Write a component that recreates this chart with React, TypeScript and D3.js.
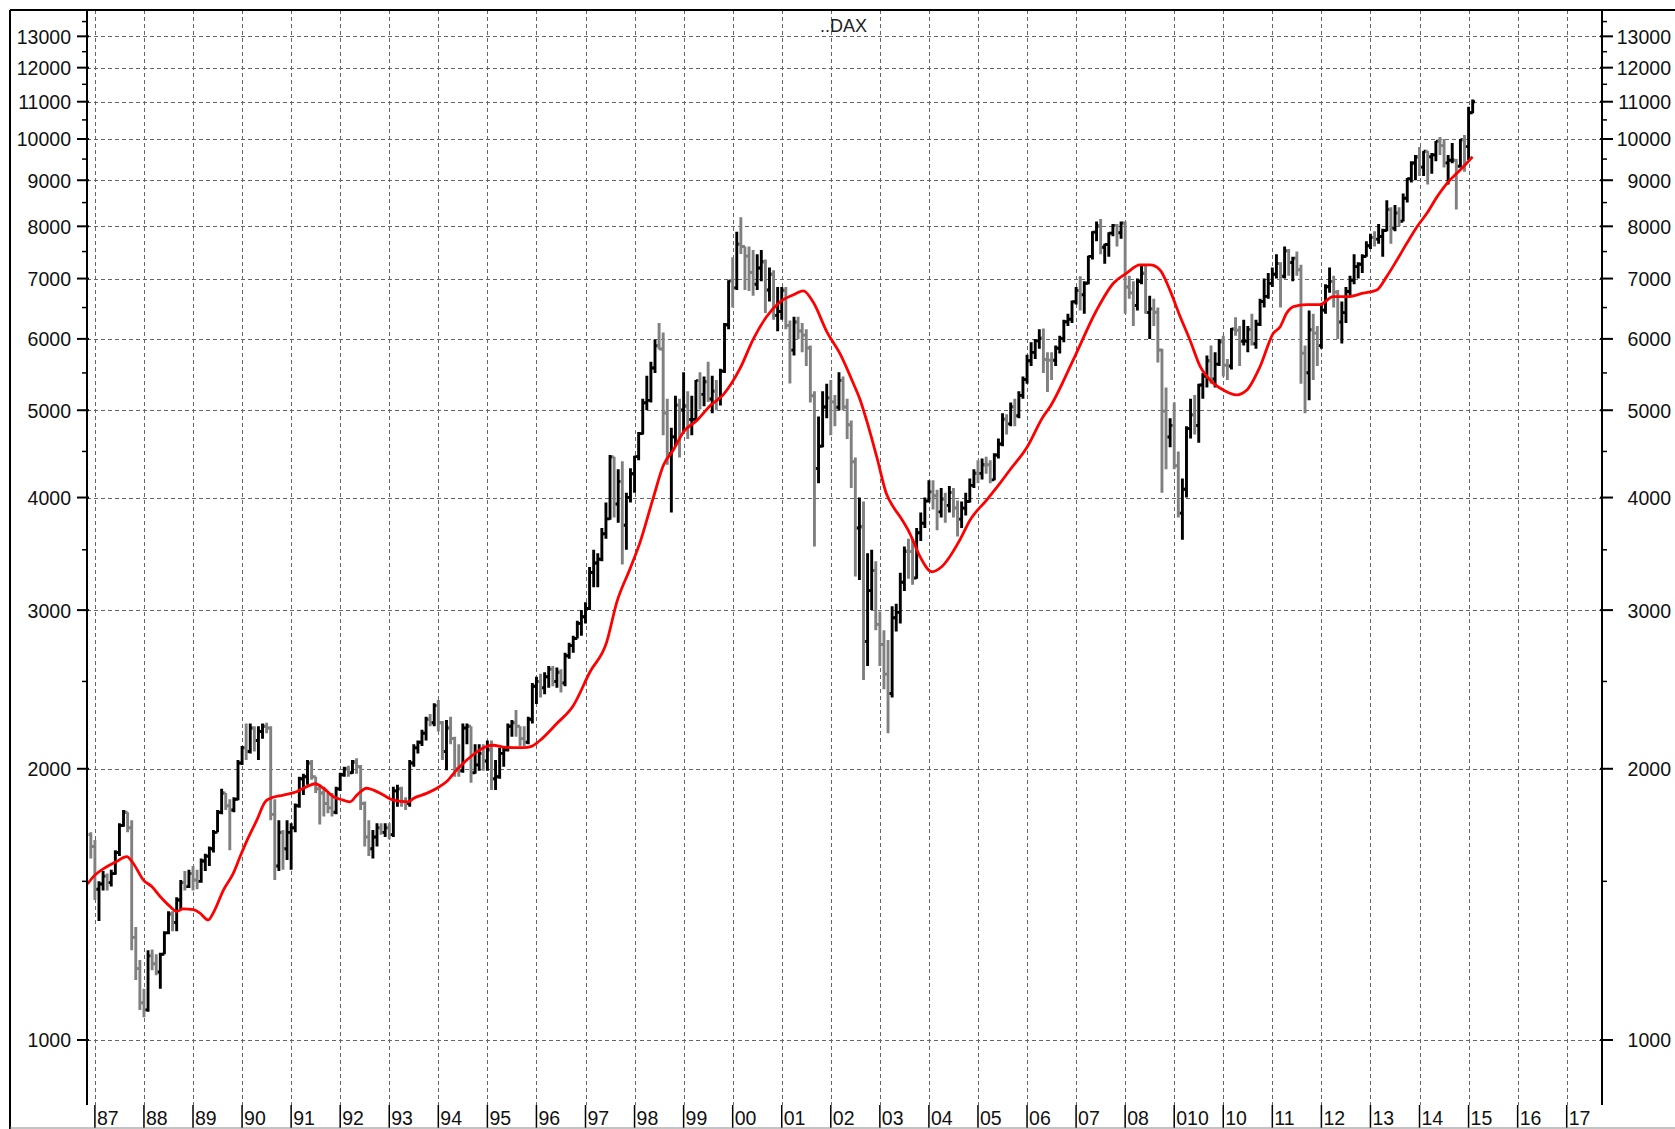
import React, { useEffect, useRef } from 'react';
import * as d3 from 'd3';

// monthly bars, first bar = December 1986, last = February 2015
const firstMonth = -1; // months from Jan 1987
const firstOpen = 1690;

const closes = [
  1640,
  1470, 1490, 1520, 1495, 1530, 1615, 1730, 1790, 1720, 1300, 1200, 1100, // 1987
  1080, 1240, 1215, 1190, 1245, 1315, 1380, 1350, 1430, 1495, 1480, 1530, // 1988
  1505, 1500, 1580, 1600, 1630, 1700, 1790, 1880, 1820, 1800, 1850, 2030, // 1989
  2110, 2090, 2220, 2150, 2200, 2230, 2220, 1780, 1560, 1700, 1630, 1700, // 1990
  1720, 1820, 1950, 1960, 2030, 1960, 1900, 1880, 1830, 1810, 1790, 1900, // 1991
  1970, 2000, 1980, 2035, 2010, 1830, 1680, 1630, 1680, 1720, 1700, 1720, // 1992
  1690, 1890, 1900, 1840, 1830, 2030, 2110, 2140, 2190, 2270, 2250, 2350, // 1993
  2250, 2090, 2220, 2160, 2000, 1990, 2220, 2230, 1980, 2020, 2080, 2040, // 1994
  2100, 1950, 1960, 2080, 2100, 2230, 2250, 2230, 2160, 2140, 2270, 2470, // 1995
  2500, 2460, 2530, 2580, 2500, 2560, 2490, 2670, 2740, 2790, 2900, 2950, // 1996
  3012, 3303, 3384, 3416, 3647, 3788, 4438, 3935, 4168, 3727, 4000, 4250, // 1997
  4441, 4710, 5096, 5127, 5569, 5896, 5848, 4965, 4474, 4671, 5066, 5002, // 1998
  5054, 4883, 4884, 5393, 5207, 5378, 5145, 5250, 5150, 5525, 6220, 6958, // 1999
  6835, 7644, 7599, 7414, 7109, 6898, 7191, 7307, 6798, 7077, 6372, 6434, // 2000
  6795, 6208, 5830, 6265, 6123, 6058, 5861, 5188, 4308, 4560, 5041, 5160, // 2001
  5108, 5039, 5397, 5041, 4818, 4383, 3700, 3712, 2769, 3153, 3320, 2893, // 2002
  2748, 2547, 2424, 2942, 2983, 3221, 3487, 3485, 3257, 3656, 3746, 3965, // 2003
  4058, 4018, 3856, 3985, 3921, 4053, 3895, 3785, 3893, 3960, 4126, 4256, // 2004
  4255, 4350, 4349, 4185, 4460, 4587, 4887, 4829, 5044, 4929, 5193, 5408, // 2005
  5674, 5796, 5970, 6009, 5692, 5683, 5682, 5859, 6004, 6268, 6309, 6597, // 2006
  6789, 6716, 6917, 7409, 7883, 8007, 7584, 7638, 7862, 8019, 7871, 8067, // 2007
  6851, 6748, 6535, 6949, 7097, 6418, 6479, 6422, 5831, 4988, 4669, 4810, // 2008
  4338, 3844, 4085, 4770, 4941, 4809, 5332, 5458, 5675, 5415, 5625, 5957, // 2009
  5608, 5598, 6154, 6136, 5965, 5966, 6148, 5925, 6229, 6601, 6688, 6914, // 2010
  7077, 7273, 7041, 7514, 7294, 7376, 7159, 5785, 5502, 6141, 6089, 5898, // 2011
  6458, 6856, 6947, 6762, 6264, 6416, 6772, 6971, 7216, 7260, 7406, 7612, // 2012
  7776, 7742, 7795, 7914, 8349, 7959, 8276, 8104, 8594, 9034, 9406, 9552, // 2013
  9306, 9692, 9556, 9603, 9943, 9833, 9407, 9470, 9474, 9327, 9981, 9806, // 2014
  10694, 11000, // 2015
];

const highs = [
  1700,
  1667, 1500, 1540, 1530, 1545, 1624, 1740, 1800, 1790, 1754, 1335, 1227,
  1140, 1258, 1260, 1245, 1250, 1320, 1390, 1390, 1440, 1505, 1540, 1545,
  1560, 1545, 1590, 1610, 1640, 1710, 1800, 1900, 1880, 1850, 1860, 2045,
  2120, 2245, 2245, 2230, 2230, 2245, 2250, 2230, 1850, 1754, 1710, 1754,
  1740, 1830, 1960, 1975, 2045, 2045, 1960, 1920, 1910, 1880, 1880, 1910,
  1980, 2010, 2015, 2045, 2055, 2020, 1840, 1754, 1710, 1740, 1740, 1740,
  1740, 1910, 1920, 1910, 1860, 2045, 2130, 2150, 2210, 2285, 2300, 2365,
  2384, 2260, 2265, 2285, 2170, 2130, 2245, 2245, 2230, 2130, 2130, 2130,
  2150, 2150, 2045, 2110, 2115, 2245, 2265, 2324, 2230, 2230, 2285, 2490,
  2530, 2550, 2560, 2600, 2600, 2590, 2580, 2690, 2760, 2810, 2920, 3000,
  3060, 3350, 3500, 3470, 3700, 3950, 4460, 4440, 4300, 4390, 4050, 4310,
  4450, 4730, 5150, 5460, 5660, 5990, 6250, 6100, 5150, 4780, 5190, 5150,
  5510, 5250, 5190, 5400, 5510, 5450, 5660, 5460, 5400, 5560, 6250, 6970,
  7390, 7890, 8190, 7600, 7600, 7530, 7450, 7530, 7350, 7200, 7150, 6850,
  6850, 6850, 6290, 6350, 6350, 6250, 6150, 5900, 5250, 4920, 5250, 5350,
  5400, 5200, 5510, 5450, 5150, 4871, 4431, 4000, 3960, 3470, 3500, 3400,
  2990, 2850, 2780, 3030, 3050, 3300, 3530, 3600, 3600, 3700, 3850, 4000,
  4180, 4180, 4080, 4100, 4050, 4120, 4100, 3970, 3960, 4050, 4200, 4300,
  4400, 4420, 4440, 4400, 4480, 4650, 4960, 4950, 5100, 5150, 5250, 5450,
  5760, 5950, 6000, 6150, 6160, 5800, 5800, 5900, 6050, 6300, 6400, 6620,
  6850, 7040, 6950, 7420, 7900, 8100, 8150, 7650, 7880, 8050, 8050, 8100,
  8100, 7050, 6950, 7000, 7250, 7230, 6700, 6650, 6500, 5850, 5300, 4900,
  5100, 4500, 4200, 4800, 5150, 5200, 5350, 5500, 5750, 5900, 5800, 6000,
  6050, 5700, 6170, 6340, 6200, 6300, 6200, 6400, 6300, 6650, 7000, 7100,
  7200, 7450, 7300, 7600, 7550, 7400, 7500, 7250, 5900, 6450, 6400, 6200,
  6550, 6900, 7200, 7050, 6800, 6600, 6850, 7050, 7450, 7300, 7450, 7700,
  7850, 7900, 8050, 7950, 8550, 8400, 8450, 8400, 8700, 9050, 9450, 9600,
  9800, 9700, 9700, 9650, 9950, 10050, 10000, 9600, 9900, 9500, 10000, 10100,
  10860, 11060,
];

const lows = [
  1590,
  1430, 1355, 1465, 1465, 1480, 1525, 1600, 1725, 1700, 1258, 1166, 1080,
  1060, 1075, 1195, 1180, 1140, 1245, 1310, 1320, 1320, 1394, 1465, 1475,
  1465, 1470, 1495, 1540, 1560, 1615, 1700, 1780, 1800, 1624, 1790, 1846,
  2020, 2045, 2080, 2090, 2045, 2160, 2190, 1754, 1505, 1540, 1545, 1584,
  1545, 1700, 1810, 1870, 1920, 1945, 1880, 1735, 1770, 1785, 1770, 1780,
  1890, 1960, 1960, 1975, 1975, 1800, 1640, 1600, 1590, 1640, 1690, 1680,
  1670, 1680, 1815, 1815, 1800, 1815, 2010, 2080, 2120, 2150, 2230, 2230,
  2200, 2045, 1993, 2130, 1960, 1960, 1980, 2130, 1930, 1975, 1990, 1990,
  1990, 1894, 1894, 1950, 2010, 2090, 2170, 2170, 2120, 2120, 2130, 2245,
  2360, 2400, 2420, 2460, 2470, 2460, 2430, 2470, 2650, 2690, 2790, 2810,
  2900, 3000, 3180, 3180, 3400, 3600, 3780, 3800, 3750, 3370, 3500, 3950,
  4050, 4400, 4700, 5000, 5100, 5500, 5840, 4690, 4350, 3850, 4560, 4430,
  4730, 4645, 4690, 4870, 5010, 5050, 5107, 4960, 5000, 5060, 5500, 6150,
  6500, 6800, 7455, 6800, 6780, 6700, 6800, 6950, 6410, 6600, 6300, 6120,
  6300, 6150, 5353, 5750, 6000, 5800, 5600, 5100, 3530, 4150, 4550, 4900,
  4690, 4800, 5000, 5000, 4645, 4100, 3270, 3240, 2510, 2600, 3000, 2850,
  2600, 2450, 2190, 2400, 2840, 2900, 3150, 3250, 3200, 3250, 3580, 3700,
  3950, 3880, 3680, 3800, 3750, 3850, 3800, 3620, 3700, 3820, 3950, 4100,
  4150, 4190, 4250, 4150, 4180, 4420, 4560, 4700, 4800, 4800, 4900, 5150,
  5350, 5600, 5700, 5850, 5500, 5240, 5400, 5600, 5780, 5950, 6200, 6250,
  6550, 6450, 6400, 6900, 7350, 7700, 7450, 7270, 7400, 7800, 7600, 7750,
  6400, 6650, 6200, 6450, 6900, 6400, 6000, 6200, 5650, 4050, 4300, 4550,
  4300, 3800, 3590, 4000, 4650, 4700, 4600, 5150, 5300, 5350, 5300, 5600,
  5450, 5400, 5550, 6050, 5600, 5900, 5800, 5900, 5850, 6200, 6500, 6650,
  6850, 7000, 6500, 7000, 7050, 6950, 7050, 5350, 4960, 5130, 5400, 5600,
  5850, 6400, 6750, 6500, 6000, 5930, 6250, 6700, 6900, 7000, 7100, 7400,
  7550, 7600, 7650, 7400, 7900, 7650, 7900, 8000, 8100, 8500, 8950, 9000,
  9100, 9100, 8900, 9150, 9450, 9600, 9300, 8900, 9400, 8350, 9300, 9200,
  9480, 10680,
];

// red moving average (decimal year, value)
const maYears = [
  1986.85, 1986.97, 1987.24, 1987.44, 1987.65, 1987.78, 1987.99, 1988.16, 1988.33, 1988.53,
  1988.67, 1988.8, 1989.01, 1989.14, 1989.31, 1989.41, 1989.62, 1989.82, 1989.96, 1990.09,
  1990.3, 1990.47, 1990.57, 1990.84, 1991.11, 1991.32, 1991.49, 1991.66, 1991.86, 1992.06,
  1992.2, 1992.34, 1992.54, 1992.68, 1992.88, 1993.08, 1993.39, 1993.49, 1993.76, 1993.97,
  1994.17, 1994.37, 1994.58, 1994.78, 1994.99, 1995.12, 1995.32, 1995.53, 1995.73, 1995.9,
  1996.07, 1996.41, 1996.75, 1997.09, 1997.43, 1997.64, 1997.91, 1998.11, 1998.38, 1998.59,
  1998.79, 1999.0, 1999.27, 1999.54, 1999.81, 2000.15, 2000.42, 2000.69, 2000.96, 2001.24,
  2001.44, 2001.64, 2001.92, 2002.19, 2002.46, 2002.59, 2002.73, 2002.94, 2003.14, 2003.27,
  2003.41, 2003.61, 2003.82, 2004.06, 2004.26, 2004.63, 2004.84, 2005.18, 2005.45, 2005.65,
  2005.99, 2006.33, 2006.47, 2006.94, 2007.42, 2007.76, 2008.03, 2008.3, 2008.51, 2008.71,
  2008.91, 2009.12, 2009.32, 2009.53, 2009.73, 2010.0, 2010.27, 2010.48, 2010.75, 2011.02,
  2011.16, 2011.29, 2011.43, 2011.7, 2011.97, 2012.24, 2012.52, 2012.85, 2013.13, 2013.33,
  2013.54, 2013.74, 2013.95, 2014.15, 2014.36, 2014.56, 2014.76, 2014.96, 2015.08,
];
const maValues = [
  1490, 1518, 1557, 1578, 1598, 1571, 1505, 1480, 1443, 1407,
  1389, 1398, 1395, 1383, 1359, 1383, 1467, 1531, 1598, 1660,
  1754, 1838, 1854, 1870, 1886, 1911, 1925, 1903, 1862, 1846,
  1838, 1870, 1903, 1894, 1870, 1846, 1838, 1854, 1878, 1903,
  1936, 1993, 2045, 2087, 2118, 2124, 2114, 2111, 2111, 2118,
  2150, 2244, 2350, 2561, 2763, 3064, 3337, 3565, 3994, 4347,
  4516, 4733, 4871, 5058, 5204, 5563, 5998, 6349, 6592, 6718,
  6782, 6592, 6110, 5773, 5353, 5150, 4871, 4431, 4030, 3908,
  3810, 3651, 3439, 3309, 3352, 3589, 3777, 3977, 4150, 4292,
  4540, 4920, 5045, 5683, 6460, 6917, 7097, 7248, 7248, 7155,
  6800, 6352, 5984, 5591, 5401, 5264, 5199, 5264, 5591, 6087,
  6190, 6406, 6516, 6550, 6550, 6683, 6683, 6743, 6800, 7035,
  7340, 7660, 7993, 8270, 8630, 8929, 9160, 9398, 9556,
];

const yLabels = [1000, 2000, 3000, 4000, 5000, 6000, 7000, 8000, 9000, 10000, 11000, 12000, 13000];
const yMinor = [1500, 2500, 3500, 4500, 5500, 6500, 7500, 8500, 9500, 10500, 11500, 12500, 13500];
const years = d3.range(1987, 2018);
const yearLabels = [
  '87', '88', '89', '90', '91', '92', '93', '94', '95', '96', '97', '98', '99',
  '00', '01', '02', '03', '04', '05', '06', '07', '08', '010', '10', '11', '12',
  '13', '14', '15', '16', '17',
];

const FONT = '"Liberation Sans", Arial, sans-serif';

const App = () => {
  const svgRef = useRef<SVGSVGElement>(null);

  useEffect(() => {
    const svg = d3.select(svgRef.current);
    svg.selectAll('*').remove();

    const left = 87, right = 1602, top = 10, bottom = 1105;
    const x = d3.scaleLinear().domain([1987, 2017]).range([94.9, 1566.7]);
    const y = d3.scaleLog().domain([1000, 10000]).range([1040, 139]);

    svg.append('rect').attr('width', 1675).attr('height', 1129).attr('fill', '#fff');

    // grid
    const grid = svg.append('g').attr('stroke', '#666').attr('stroke-width', 1).attr('stroke-dasharray', '4,3');
    grid.selectAll('.hg')
      .data(yLabels)
      .enter().append('line')
      .attr('x1', left).attr('x2', right)
      .attr('y1', d => Math.round(y(d)) + 0.5).attr('y2', d => Math.round(y(d)) + 0.5);
    grid.selectAll('.vg')
      .data(years)
      .enter().append('line')
      .attr('x1', d => Math.round(x(d)) + 0.5).attr('x2', d => Math.round(x(d)) + 0.5)
      .attr('y1', top).attr('y2', bottom);

    // OHLC bars
    const n = Math.min(closes.length, highs.length, lows.length);
    const bars = d3.range(n).map(i => ({
      t: 1987 + (firstMonth + i) / 12,
      o: i === 0 ? firstOpen : closes[i - 1],
      h: highs[i],
      l: lows[i],
      c: closes[i],
    }));

    svg.append('g')
      .selectAll('path')
      .data(bars)
      .enter().append('path')
      .attr('d', d => {
        const bx = x(d.t);
        return `M${bx},${y(d.h)}V${y(d.l)}M${bx - 2.4},${y(d.o)}H${bx}M${bx},${y(d.c)}H${bx + 2.4}`;
      })
      .attr('fill', 'none')
      .attr('stroke', d => (d.c >= d.o ? '#000' : '#808080'))
      .attr('stroke-width', 2.9);

    // moving average
    const ma = maYears.map((t, i) => [t, maValues[i]] as [number, number]);
    const line = d3.line<[number, number]>()
      .x(d => x(d[0]))
      .y(d => y(d[1]))
      .curve(d3.curveMonotoneX);
    svg.append('path')
      .attr('d', line(ma))
      .attr('fill', 'none')
      .attr('stroke', '#ff0000')
      .attr('stroke-width', 2.8);

    // white out anything left of the axis
    svg.append('rect').attr('x', 12).attr('y', top).attr('width', left - 12).attr('height', bottom - top).attr('fill', '#fff');

    // axes
    const ax = svg.append('g').attr('stroke', '#000');
    ax.append('line').attr('x1', left).attr('x2', left).attr('y1', top).attr('y2', bottom).attr('stroke-width', 2);
    ax.append('line').attr('x1', right).attr('x2', right).attr('y1', top).attr('y2', bottom).attr('stroke-width', 2);
    ax.selectAll('.tl').data(yLabels).enter().append('line')
      .attr('x1', left - 10).attr('x2', left + 2).attr('y1', d => y(d)).attr('y2', d => y(d)).attr('stroke-width', 2);
    ax.selectAll('.tr').data(yLabels).enter().append('line')
      .attr('x1', right - 2).attr('x2', right + 11).attr('y1', d => y(d)).attr('y2', d => y(d)).attr('stroke-width', 2);
    ax.selectAll('.ml').data(yMinor).enter().append('line')
      .attr('x1', left - 5).attr('x2', left).attr('y1', d => y(d)).attr('y2', d => y(d)).attr('stroke-width', 1.5);
    ax.selectAll('.mr').data(yMinor).enter().append('line')
      .attr('x1', right).attr('x2', right + 5).attr('y1', d => y(d)).attr('y2', d => y(d)).attr('stroke-width', 1.5);
    ax.selectAll('.yt').data(years).enter().append('line')
      .attr('x1', d => x(d)).attr('x2', d => x(d)).attr('y1', bottom).attr('y2', 1128).attr('stroke-width', 1.5);

    const txt = svg.append('g').attr('font-family', FONT).attr('font-size', 19.5).attr('fill', '#111');
    txt.selectAll('.ll').data(yLabels).enter().append('text')
      .attr('x', 71).attr('y', d => y(d)).attr('dy', '0.38em').attr('text-anchor', 'end')
      .text(d => String(d));
    txt.selectAll('.rl').data(yLabels).enter().append('text')
      .attr('x', 1671).attr('y', d => y(d)).attr('dy', '0.38em').attr('text-anchor', 'end')
      .text(d => String(d));
    txt.selectAll('.xl').data(years).enter().append('text')
      .attr('x', d => x(d) + 2).attr('y', 1125)
      .text((d, i) => yearLabels[i]);

    svg.append('text')
      .attr('x', 820).attr('y', 32)
      .attr('font-family', FONT).attr('font-size', 18).attr('fill', '#222')
      .text('..DAX');

    // frame
    const fr = svg.append('g').attr('stroke', '#000').attr('stroke-width', 2);
    fr.append('line').attr('x1', 10).attr('x2', 1675).attr('y1', 10).attr('y2', 10);
    fr.append('line').attr('x1', 10).attr('x2', 10).attr('y1', 10).attr('y2', 1129);
    fr.append('line').attr('x1', 10).attr('x2', 1675).attr('y1', 1128).attr('y2', 1128).attr('stroke', '#888').attr('stroke-width', 1);
  }, []);

  return (
    <svg
      ref={svgRef}
      width={1675}
      height={1129}
      style={{ position: 'absolute', left: 0, top: 0, display: 'block' }}
    />
  );
};

export default App;
